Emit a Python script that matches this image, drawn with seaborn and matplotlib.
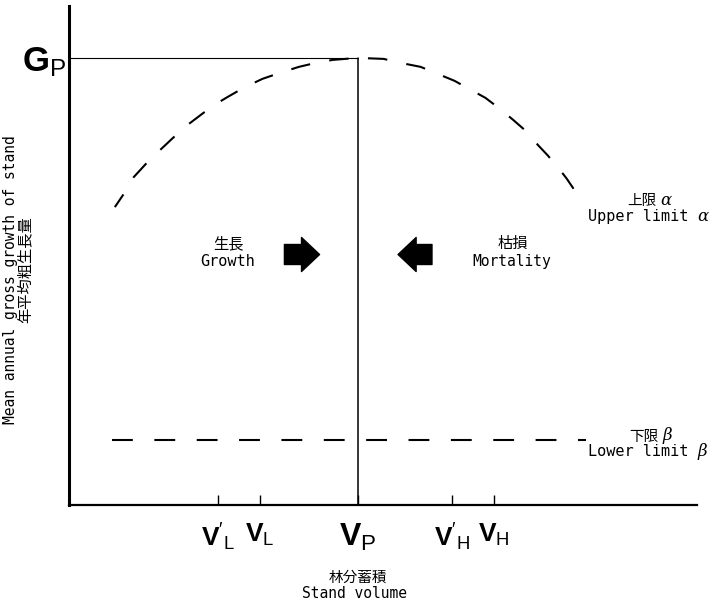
import seaborn as sns
import matplotlib.pyplot as plt

# schematic: stand volume (x) vs mean annual gross growth (y), both 0-100
curve_x = [7.3, 8.7, 9.7, 10.3, 12.2, 14.3, 16.5, 18.6, 20.8, 22.9, 25.3, 27.8,
           30.8, 33.6, 36.6, 39.3, 42.0, 46.0, 50.1, 52.8, 56.0, 58.7, 61.4,
           63.4, 66.3, 68.4, 70.8, 72.8, 74.7, 76.2, 77.7, 79.2, 80.6, 82.0]
curve_y = [59.7, 62.3, 64.3, 65.7, 68.3, 70.9, 73.5, 75.9, 78.0, 80.0, 81.8,
           83.6, 85.4, 86.6, 87.8, 88.6, 89.2, 89.6, 89.4, 88.6, 87.8, 86.4,
           85.0, 83.6, 81.6, 79.6, 77.1, 74.9, 72.1, 70.1, 67.9, 65.5, 62.9,
           60.3]

lower_x = [6.9, 82.3]
lower_y = [13.0, 13.0]

v_peak = 46.0
g_peak = 89.6

tick_pos = [23.7, 30.4, v_peak, 61.0, 67.6]
tick_labels = [r"$\mathbf{V}'_\mathsf{L}$", r"$\mathbf{V}_\mathsf{L}$",
               r"$\mathbf{V}_\mathsf{P}$", r"$\mathbf{V}'_\mathsf{H}$",
               r"$\mathbf{V}_\mathsf{H}$"]

W, H = 712, 605


def px(x, y):
    # pixel position -> figure fraction
    return x / W, 1 - y / H


sns.set_theme(style='white')
plt.rcParams['font.family'] = ['DejaVu Sans Mono', 'Noto Sans CJK JP']
plt.rcParams['mathtext.fontset'] = 'custom'
plt.rcParams['mathtext.rm'] = 'Liberation Sans'
plt.rcParams['mathtext.sf'] = 'Liberation Sans'
plt.rcParams['mathtext.bf'] = 'Liberation Sans:bold'
plt.rcParams['mathtext.it'] = 'DejaVu Serif:italic'
plt.rcParams['lines.scale_dashes'] = False

fig = plt.figure(figsize=(W / 100, H / 100), dpi=100)
ax = fig.add_axes([69 / W, 1 - 505 / H, (697 - 69) / W, (505 - 6) / H])

# curves
sns.lineplot(x=curve_x, y=curve_y, ax=ax, color='black', linewidth=1.5,
             linestyle=(3, (14, 14)), sort=False)
sns.lineplot(x=lower_x, y=lower_y, ax=ax, color='black', linewidth=1.5,
             linestyle=(0, (15, 15.5)))
ax.plot([v_peak, v_peak], [0, g_peak], color='black', linewidth=1.1)
ax.plot([0, v_peak], [g_peak, g_peak], color='black', linewidth=0.8)

ax.set_xlim(0, 100)
ax.set_ylim(0, 100)
sns.despine(ax=ax)
ax.spines['left'].set_linewidth(2.2)
ax.spines['bottom'].set_linewidth(1.6)
ax.spines['left'].set_color('black')
ax.spines['bottom'].set_color('black')

ax.set_xticks(tick_pos, labels=tick_labels)
ax.tick_params(axis='x', direction='in', length=7, width=1, pad=12,
               bottom=True, colors='black', labelsize=19)
for lab in ax.get_xticklabels():
    if 'P' in lab.get_text():
        lab.set_fontsize(23)
ax.set_yticks([g_peak], labels=[r"$\mathbf{G}_\mathsf{P}$"])
ax.tick_params(axis='y', length=0, pad=2, labelsize=25, colors='black')

# arrows
arrow = 'simple,head_length=1.3,head_width=2.45,tail_width=1.44'
ax.annotate('', xy=(39.9, 50.2), xytext=(34.3, 50.2),
            arrowprops=dict(arrowstyle=arrow, fc='black', ec='black',
                            shrinkA=0, shrinkB=0, mutation_scale=10))
ax.annotate('', xy=(52.4, 50.2), xytext=(57.8, 50.2),
            arrowprops=dict(arrowstyle=arrow, fc='black', ec='black',
                            shrinkA=0, shrinkB=0, mutation_scale=10))

# texts
kw = dict(ha='center', va='center', color='black')
fig.text(*px(228, 244), '生長', fontsize=11, **kw)
fig.text(*px(228, 262), 'Growth', fontsize=11, **kw)
fig.text(*px(513, 243), '枯損', fontsize=11, **kw)
fig.text(*px(512, 261), 'Mortality', fontsize=10.5, **kw)

fig.text(*px(642, 200), '上限', fontsize=10.5, **kw)
fig.text(*px(666, 200), r'$\alpha$', fontsize=12, **kw)
fig.text(*px(638, 216), 'Upper limit', fontsize=11, **kw)
fig.text(*px(703, 216), r'$\alpha$', fontsize=12, **kw)
fig.text(*px(644, 436), '下限', fontsize=10.5, **kw)
fig.text(*px(668, 436), r'$\beta$', fontsize=12, **kw)
fig.text(*px(638, 451), 'Lower limit', fontsize=11, **kw)
fig.text(*px(703, 451), r'$\beta$', fontsize=12, **kw)

fig.text(*px(358, 577), '林分蓄積', fontsize=10.5, **kw)
fig.text(*px(355, 594), 'Stand volume', fontsize=10.5, **kw)
fig.text(*px(11, 280), 'Mean annual gross growth of stand', fontsize=10.5,
         rotation=90, **kw)
fig.text(*px(25, 270), '年平均粗生長量', fontsize=11, rotation=90, **kw)

fig.savefig('out.png', dpi=100)
